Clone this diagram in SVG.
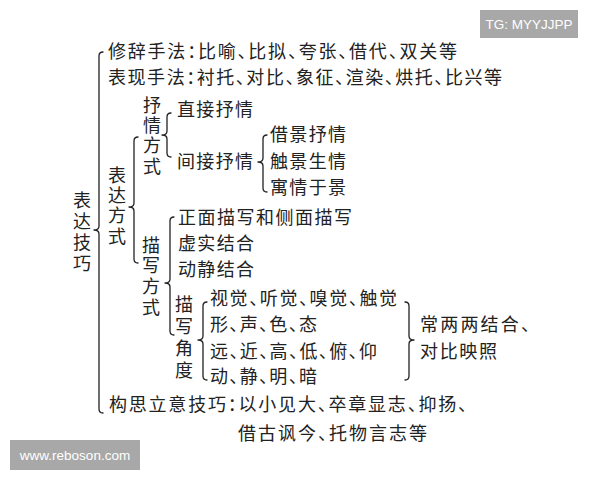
<svg xmlns="http://www.w3.org/2000/svg" width="600" height="480" viewBox="0 0 600 480">
<style>
text{font-family:"Noto Sans CJK SC","Noto Sans",sans-serif;font-size:18px;fill:#222;dominant-baseline:central;font-feature-settings:"halt"}
.v{writing-mode:vertical-rl;text-orientation:upright;dominant-baseline:central}
.brace{fill:none;stroke:#222;stroke-width:1.3;stroke-linecap:round;stroke-linejoin:round}
.wm{fill:#a8a8a8}
.wmt{font-family:"Liberation Sans",Arial,sans-serif;font-size:13.5px;fill:#fff;text-anchor:middle;font-feature-settings:normal}
</style>
<rect width="600" height="480" fill="#fff"/>
<g id="connectors">
<path class="brace" d="M103,52 Q99,52 99,56 L99,226 Q99,230 94,230 Q99,230 99,234 L99,409 Q99,413 103,413"/>
<path class="brace" d="M138,137 Q134,137 134,141 L134,203 Q134,207 129,207 Q134,207 134,211 L134,259 Q134,263 138,263"/>
<path class="brace" d="M171,113 Q167,113 167,117 L167,131 Q167,135 162,135 Q167,135 167,139 L167,153 Q167,157 171,157"/>
<path class="brace" d="M267,135 Q263,135 263,139 L263,158 Q263,162 258,162 Q263,162 263,166 L263,188 Q263,192 267,192"/>
<path class="brace" d="M174,217 Q170,217 170,221 L170,279 Q170,283 165,283 Q170,283 170,287 L170,331 Q170,335 174,335"/>
<path class="brace" d="M207,302 Q203,302 203,306 L203,336 Q203,340 198,340 Q203,340 203,344 L203,376 Q203,380 207,380"/>
<path class="brace" d="M405,302 Q409,302 409,306 L409,336 Q409,340 414,340 Q409,340 409,344 L409,376 Q409,380 405,380"/>
</g>
<g id="root"><text class="v" x="82" y="191" textLength="81" lengthAdjust="spacing">表达技巧</text></g>
<g id="xiuci"><text x="108" y="50" textLength="349" lengthAdjust="spacing">修辞手法：比喻、比拟、夸张、借代、双关等</text></g>
<g id="biaoxian"><text x="108" y="76" textLength="394" lengthAdjust="spacing">表现手法：衬托、对比、象征、渲染、烘托、比兴等</text></g>
<g id="biaodafangshi"><text class="v" x="117" y="166" textLength="79" lengthAdjust="spacing">表达方式</text></g>
<g id="shuqingfangshi"><text class="v" x="152" y="96" textLength="79" lengthAdjust="spacing">抒情方式</text></g>
<g id="zhijie"><text x="177" y="108" textLength="76" lengthAdjust="spacing">直接抒情</text></g>
<g id="jianjie"><text x="177" y="160" textLength="76" lengthAdjust="spacing">间接抒情</text></g>
<g id="jiejing"><text x="270" y="133" textLength="76" lengthAdjust="spacing">借景抒情</text></g>
<g id="chujing"><text x="270" y="160" textLength="76" lengthAdjust="spacing">触景生情</text></g>
<g id="yuqing"><text x="270" y="186" textLength="76" lengthAdjust="spacing">寓情于景</text></g>
<g id="miaoxiefangshi"><text class="v" x="151" y="236" textLength="80" lengthAdjust="spacing">描写方式</text></g>
<g id="zhengmian"><text x="178" y="216" textLength="174" lengthAdjust="spacing">正面描写和侧面描写</text></g>
<g id="xushi"><text x="178" y="242" textLength="76" lengthAdjust="spacing">虚实结合</text></g>
<g id="dongjing"><text x="178" y="268" textLength="76" lengthAdjust="spacing">动静结合</text></g>
<g id="miaoxiejiaodu"><text class="v" x="184" y="295" textLength="84" lengthAdjust="spacing">描写角度</text></g>
<g id="jiaodu1"><text x="210" y="297" textLength="187" lengthAdjust="spacing">视觉、听觉、嗅觉、触觉</text></g>
<g id="jiaodu2"><text x="210" y="323" textLength="107" lengthAdjust="spacing">形、声、色、态</text></g>
<g id="jiaodu3"><text x="210" y="350" textLength="167" lengthAdjust="spacing">远、近、高、低、俯、仰</text></g>
<g id="jiaodu4"><text x="210" y="375" textLength="107" lengthAdjust="spacing">动、静、明、暗</text></g>
<g id="jiehe">
<text x="420" y="323" textLength="110" lengthAdjust="spacing">常两两结合、</text>
<text x="420" y="350" textLength="77" lengthAdjust="spacing">对比映照</text>
</g>
<g id="gousi">
<text x="109" y="403" textLength="358" lengthAdjust="spacing">构思立意技巧：以小见大、卒章显志、抑扬、</text>
<text x="238" y="432" textLength="189" lengthAdjust="spacing">借古讽今、托物言志等</text>
</g>
<g id="watermark-tg"><rect class="wm" x="480" y="10" width="98" height="28"/><text class="wmt" x="529" y="24.5">TG: MYYJJPP</text></g>
<g id="watermark-site"><rect class="wm" x="10" y="440" width="130" height="30"/><text class="wmt" x="75" y="455.5">www.reboson.com</text></g>
</svg>
